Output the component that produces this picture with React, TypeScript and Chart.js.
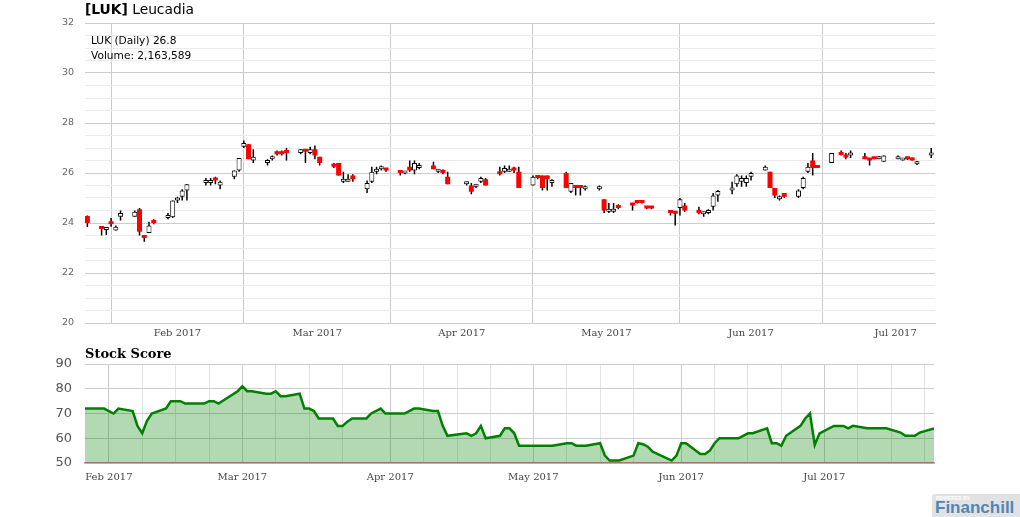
import React, { useEffect, useRef } from 'react';
import { Chart, registerables } from 'chart.js';

Chart.register(...registerables);

// ---------- DATA ----------
const candleDates = [
  '2017-01-27', '2017-01-30', '2017-01-31', '2017-02-01', '2017-02-02', '2017-02-03',
  '2017-02-06', '2017-02-07', '2017-02-08', '2017-02-09', '2017-02-10',
  '2017-02-13', '2017-02-14', '2017-02-15', '2017-02-16', '2017-02-17',
  '2017-02-21', '2017-02-22', '2017-02-23', '2017-02-24',
  '2017-02-27', '2017-02-28', '2017-03-01', '2017-03-02', '2017-03-03',
  '2017-03-06', '2017-03-07', '2017-03-08', '2017-03-09', '2017-03-10',
  '2017-03-13', '2017-03-14', '2017-03-15', '2017-03-16', '2017-03-17',
  '2017-03-20', '2017-03-21', '2017-03-22', '2017-03-23', '2017-03-24',
  '2017-03-27', '2017-03-28', '2017-03-29', '2017-03-30', '2017-03-31',
  '2017-04-03', '2017-04-04', '2017-04-05', '2017-04-06', '2017-04-07',
  '2017-04-10', '2017-04-11', '2017-04-12', '2017-04-13',
  '2017-04-17', '2017-04-18', '2017-04-19', '2017-04-20', '2017-04-21',
  '2017-04-24', '2017-04-25', '2017-04-26', '2017-04-27', '2017-04-28',
  '2017-05-01', '2017-05-02', '2017-05-03', '2017-05-04', '2017-05-05',
  '2017-05-08', '2017-05-09', '2017-05-10', '2017-05-11', '2017-05-12',
  '2017-05-15', '2017-05-16', '2017-05-17', '2017-05-18', '2017-05-19',
  '2017-05-22', '2017-05-23', '2017-05-24', '2017-05-25', '2017-05-26',
  '2017-05-30', '2017-05-31', '2017-06-01', '2017-06-02',
  '2017-06-05', '2017-06-06', '2017-06-07', '2017-06-08', '2017-06-09',
  '2017-06-12', '2017-06-13', '2017-06-14', '2017-06-15', '2017-06-16',
  '2017-06-19', '2017-06-20', '2017-06-21', '2017-06-22', '2017-06-23',
  '2017-06-26', '2017-06-27', '2017-06-28', '2017-06-29', '2017-06-30',
  '2017-07-03', '2017-07-05', '2017-07-06', '2017-07-07',
  '2017-07-10', '2017-07-11', '2017-07-12', '2017-07-13', '2017-07-14',
  '2017-07-17', '2017-07-18', '2017-07-19', '2017-07-20', '2017-07-21',
  '2017-07-24',
];

const opens = [
  24.28, 23.8, 23.72, 24.0, 23.7, 24.25,
  24.25, 24.55, 23.45, 23.6, 24.05,
  24.2, 24.23, 24.9, 25.05, 25.3,
  25.6, 25.6, 25.75, 25.5,
  25.85, 26.1, 27.05, 27.15, 26.5,
  26.4, 26.55, 26.85, 26.85, 26.85,
  26.8, 26.9, 26.8, 26.95, 26.65,
  26.3, 26.4, 25.65, 25.65, 25.9,
  25.35, 25.65, 26.05, 26.15, 26.15,
  26.05, 25.98, 26.25, 26.1, 26.2,
  26.3, 26.05, 26.1, 25.85,
  25.55, 25.5, 25.45, 25.65, 25.75,
  26.0, 26.05, 26.05, 26.2, 26.05,
  25.5, 25.85, 25.9, 25.9, 25.6,
  26.0, 25.25, 25.45, 25.45, 25.35,
  25.35, 24.95, 24.45, 24.45, 24.65,
  24.75, 24.85, 24.85, 24.62, 24.62,
  24.45, 24.42, 24.6, 24.7,
  24.45, 24.35, 24.4, 24.65, 25.1,
  25.3, 25.55, 25.65, 25.6, 25.85,
  26.1, 26.05, 25.4, 24.95, 25.2,
  25.05, 25.4, 26.05, 26.5, 26.3,
  26.4, 26.8, 26.72, 26.7,
  26.6, 26.55, 26.6, 26.55, 26.45,
  26.55, 26.5, 26.6, 26.6, 26.35,
  26.7,
];

const highs = [
  24.3, 23.82, 23.84, 24.2, 23.9, 24.5,
  24.5, 24.6, 23.45, 24.05, 24.15,
  24.4, 24.9, 25.05, 25.35, 25.55,
  25.8, 25.8, 25.85, 25.7,
  26.1, 26.6, 27.3, 27.15, 26.95,
  26.55, 26.7, 26.9, 26.9, 27.0,
  26.95, 26.95, 27.05, 27.1, 26.65,
  26.4, 26.4, 26.05, 25.95, 25.95,
  25.7, 26.25, 26.25, 26.3, 26.15,
  26.1, 26.05, 26.5, 26.5, 26.4,
  26.45, 26.15, 26.15, 26.05,
  25.65, 25.6, 25.55, 25.85, 25.8,
  26.25, 26.3, 26.3, 26.25, 26.25,
  25.9, 25.9, 25.9, 25.9, 25.75,
  26.05, 25.6, 25.45, 25.45, 25.5,
  25.5, 24.95, 24.8, 24.8, 24.75,
  24.75, 24.85, 24.85, 24.65, 24.65,
  24.5, 24.45, 25.0, 24.8,
  24.65, 24.45, 24.55, 25.2, 25.32,
  25.65, 25.95, 25.9, 25.9, 26.05,
  26.3, 26.05, 25.4, 25.1, 25.2,
  25.35, 25.85, 26.4, 26.8, 26.3,
  26.8, 26.9, 26.8, 26.9,
  26.8, 26.6, 26.65, 26.68, 26.7,
  26.7, 26.58, 26.62, 26.62, 26.48,
  27.0,
];

const lows = [
  23.84, 23.5, 23.52, 23.85, 23.7, 24.1,
  24.25, 23.5, 23.25, 23.6, 23.95,
  24.15, 24.2, 24.8, 24.9, 24.9,
  25.5, 25.5, 25.55, 25.35,
  25.75, 26.05, 27.0, 26.55, 26.4,
  26.3, 26.5, 26.7, 26.7, 26.5,
  26.75, 26.4, 26.75, 26.55, 26.3,
  26.2, 25.9, 25.6, 25.65, 25.65,
  25.2, 25.6, 25.95, 26.1, 26.05,
  25.9, 25.95, 26.05, 25.95, 26.15,
  26.15, 26.0, 25.95, 25.55,
  25.5, 25.15, 25.4, 25.6, 25.5,
  25.9, 26.0, 26.05, 26.0, 25.4,
  25.5, 25.75, 25.3, 25.3, 25.45,
  25.4, 25.2, 25.1, 25.1, 25.3,
  25.3, 24.4, 24.4, 24.4, 24.55,
  24.5, 24.78, 24.78, 24.55, 24.55,
  24.3, 23.9, 24.3, 24.45,
  24.35, 24.25, 24.35, 24.5, 24.85,
  25.15, 25.45, 25.45, 25.45, 25.7,
  26.1, 25.4, 25.0, 24.9, 25.0,
  25.0, 25.35, 26.0, 25.9, 26.2,
  26.4, 26.7, 26.55, 26.6,
  26.55, 26.3, 26.55, 26.55, 26.45,
  26.55, 26.5, 26.52, 26.5, 26.32,
  26.6,
];

const closes = [
  24.0, 23.76, 23.84, 23.95, 23.85, 24.4,
  24.45, 23.65, 23.4, 23.9, 24.0,
  24.3, 24.9, 25.0, 25.3, 25.55,
  25.7, 25.7, 25.7, 25.65,
  26.1, 26.6, 27.2, 26.55, 26.65,
  26.5, 26.65, 26.75, 26.75, 26.8,
  26.95, 26.85, 26.95, 26.7, 26.4,
  26.25, 25.9, 25.75, 25.75, 25.75,
  25.6, 26.05, 26.15, 26.25, 26.1,
  26.0, 26.03, 26.1, 26.4, 26.3,
  26.15, 26.12, 26.0, 25.55,
  25.65, 25.25, 25.5, 25.8, 25.5,
  25.95, 26.2, 26.15, 26.1, 25.4,
  25.85, 25.8, 25.4, 25.75, 25.7,
  25.4, 25.6, 25.4, 25.4, 25.4,
  25.4, 24.5, 24.55, 24.55, 24.6,
  24.7, 24.8, 24.8, 24.58, 24.58,
  24.4, 24.37, 24.95, 24.5,
  24.4, 24.43, 24.5, 25.1, 25.28,
  25.4, 25.9, 25.8, 25.8, 26.0,
  26.25, 25.4, 25.1, 25.07, 25.05,
  25.3, 25.8, 26.25, 26.2, 26.2,
  26.8, 26.72, 26.62, 26.8,
  26.55, 26.5, 26.55, 26.65, 26.7,
  26.65, 26.55, 26.55, 26.5, 26.45,
  26.8,
];

const scoreDates = [
  '2017-01-27', '2017-01-31', '2017-02-02', '2017-02-03', '2017-02-06', '2017-02-07',
  '2017-02-08', '2017-02-09', '2017-02-10', '2017-02-13', '2017-02-14', '2017-02-16',
  '2017-02-17', '2017-02-21', '2017-02-22', '2017-02-23', '2017-02-24', '2017-02-28',
  '2017-03-01', '2017-03-02', '2017-03-03', '2017-03-06', '2017-03-07', '2017-03-08',
  '2017-03-09', '2017-03-10', '2017-03-13', '2017-03-14', '2017-03-15', '2017-03-16',
  '2017-03-17', '2017-03-20', '2017-03-21', '2017-03-22', '2017-03-23', '2017-03-24',
  '2017-03-27', '2017-03-28', '2017-03-30', '2017-03-31', '2017-04-04', '2017-04-06',
  '2017-04-07', '2017-04-10', '2017-04-11', '2017-04-12', '2017-04-13', '2017-04-17',
  '2017-04-18', '2017-04-19', '2017-04-20', '2017-04-21', '2017-04-24', '2017-04-25',
  '2017-04-26', '2017-04-27', '2017-04-28', '2017-05-05', '2017-05-08', '2017-05-09',
  '2017-05-10', '2017-05-12', '2017-05-15', '2017-05-16', '2017-05-17', '2017-05-19',
  '2017-05-22', '2017-05-23', '2017-05-24', '2017-05-25', '2017-05-26', '2017-05-30',
  '2017-05-31', '2017-06-01', '2017-06-02', '2017-06-05', '2017-06-06', '2017-06-07',
  '2017-06-08', '2017-06-09', '2017-06-13', '2017-06-15', '2017-06-16', '2017-06-19',
  '2017-06-20', '2017-06-21', '2017-06-22', '2017-06-23', '2017-06-26', '2017-06-27',
  '2017-06-28', '2017-06-29', '2017-06-30', '2017-07-03', '2017-07-05', '2017-07-06',
  '2017-07-07', '2017-07-10', '2017-07-14', '2017-07-17', '2017-07-18', '2017-07-20',
  '2017-07-21', '2017-07-24',
];

const scoreValues = [
  72, 72, 70, 72, 71, 65,
  62, 67, 70, 72, 75, 75,
  74, 74, 75, 75, 74, 79,
  81, 79, 79, 78, 78, 79,
  77, 77, 78, 72, 72, 71,
  68, 68, 65, 65, 66.7, 68,
  68, 70, 72, 70, 70, 72,
  72, 71, 71, 65, 61, 62,
  61, 62, 65, 60, 61, 64,
  64, 62, 57, 57, 58, 58,
  57, 57, 58, 53, 51, 51,
  53, 58, 57.6, 56.6, 54.6, 51,
  53, 58, 58, 53.6, 53.6, 55,
  58, 60, 60, 62, 62, 64,
  58, 58, 57, 61, 65, 68,
  70, 57.3, 62, 65, 65, 64,
  65, 64, 64, 62.3, 61, 61,
  62.3, 64,
];

const monthStarts = ['2017-02-01', '2017-03-01', '2017-04-01', '2017-05-01', '2017-06-01', '2017-07-01'];
const monthLabels = ['Feb 2017', 'Mar 2017', 'Apr 2017', 'May 2017', 'Jun 2017', 'Jul 2017'];
const weekDaysOfMonth = [8, 15, 22];

const priceMin = 20;
const priceMax = 32;
const scoreMin = 50;
const scoreMax = 90;

// ---------- HELPERS ----------
const DAY = 86400000;
const BASE = Date.UTC(2017, 0, 1);
function dayNum(s: string): number {
  const [y, m, d] = s.split('-').map(Number);
  return (Date.UTC(y, m - 1, d) - BASE) / DAY;
}
function monthMid(s: string): number {
  const [y, m] = s.split('-').map(Number);
  const a = Date.UTC(y, m - 1, 1);
  const b = Date.UTC(y, m, 1);
  return ((a + b) / 2 - BASE) / DAY;
}

const monthStartDays = monthStarts.map(dayNum);
const monthMidDays = monthStarts.map(monthMid);
const weekDays: number[] = [];
monthStarts.forEach((s) => {
  const [y, m] = s.split('-').map(Number);
  weekDaysOfMonth.forEach((d) => weekDays.push((Date.UTC(y, m - 1, d) - BASE) / DAY));
});

const GRID_MAJOR = '#cccccc';
const GRID_MINOR = '#ebebeb';

export default function App() {
  const topRef = useRef<HTMLCanvasElement>(null);
  const botRef = useRef<HTMLCanvasElement>(null);

  useEffect(() => {
    const isUp = (i: number) => closes[i] >= opens[i];
    const wickData = candleDates.map((s, i) => ({ x: dayNum(s), y: [lows[i], highs[i]] }));
    const bodyData = candleDates.map((s, i) => ({
      x: dayNum(s),
      y: [Math.min(opens[i], closes[i]), Math.max(opens[i], closes[i])],
    }));

    const topChart = new Chart(topRef.current as HTMLCanvasElement, {
      type: 'bar',
      data: {
        datasets: [
          {
            data: bodyData as any,
            order: 1,
            grouped: false,
            barThickness: 5,
            minBarLength: 3,
            inflateAmount: 0,
            borderSkipped: false,
            backgroundColor: (ctx: any) => (isUp(ctx.dataIndex) ? '#ffffff' : '#ff0000'),
            borderColor: (ctx: any) => (isUp(ctx.dataIndex) ? '#000000' : '#ff0000'),
            borderWidth: (ctx: any) => (isUp(ctx.dataIndex) ? 1 : 0),
          } as any,
          {
            data: wickData as any,
            order: 2,
            grouped: false,
            barThickness: 1.5,
            inflateAmount: 0,
            borderSkipped: false,
            backgroundColor: '#000000',
            borderWidth: 0,
          } as any,
        ],
      },
      options: {
        responsive: false,
        animation: false,
        events: [],
        layout: { padding: { left: 0, right: 85, top: 23, bottom: 0 } },
        plugins: { legend: { display: false }, tooltip: { enabled: false }, title: { display: false } },
        scales: {
          x: {
            type: 'linear',
            min: 25.5,
            max: 204.8,
            offset: false,
            afterBuildTicks: (scale: any) => {
              const t = [...monthStartDays, ...monthMidDays].sort((a, b) => a - b);
              scale.ticks = t.map((v) => ({ value: v }));
            },
            afterFit: (scale: any) => {
              scale.height = 22;
            },
            grid: {
              offset: false,
              drawTicks: false,
              color: (ctx: any) =>
                ctx.tick && monthStartDays.includes(ctx.tick.value) ? GRID_MAJOR : 'rgba(0,0,0,0)',
              lineWidth: 1,
            },
            border: { display: true, color: GRID_MAJOR, width: 1 },
            ticks: {
              autoSkip: false,
              maxRotation: 0,
              minRotation: 0,
              padding: 4,
              color: '#444444',
              font: { family: 'DejaVu Serif', size: 10 },
              callback: (value: any) => {
                const idx = monthMidDays.indexOf(Number(value));
                return idx >= 0 ? monthLabels[idx] : '';
              },
            },
          },
          y: {
            type: 'linear',
            min: priceMin,
            max: priceMax,
            afterFit: (scale: any) => {
              scale.width = 85;
            },
            grid: {
              drawTicks: false,
              color: (ctx: any) => (ctx.tick && ctx.tick.value % 2 === 0 ? GRID_MAJOR : GRID_MINOR),
            },
            border: { display: false },
            ticks: {
              stepSize: 0.5,
              autoSkip: false,
              padding: 11,
              color: '#666666',
              font: { family: 'DejaVu Sans', size: 9.5 },
              callback: (value: any) => (Number(value) % 2 === 0 ? String(value) : ''),
            },
          },
        },
      } as any,
    });

    const scoreData = scoreDates.map((s, i) => ({ x: dayNum(s), y: scoreValues[i] }));
    const botChart = new Chart(botRef.current as HTMLCanvasElement, {
      type: 'line',
      data: {
        datasets: [
          {
            data: scoreData as any,
            borderColor: '#008000',
            borderWidth: 2.5,
            backgroundColor: 'rgba(0,128,0,0.3)',
            fill: 'start',
            pointRadius: 0,
            tension: 0,
          },
        ],
      },
      options: {
        responsive: false,
        animation: false,
        events: [],
        layout: { padding: { left: 0, right: 86, top: 24, bottom: 0 } },
        plugins: { legend: { display: false }, tooltip: { enabled: false }, title: { display: false } },
        scales: {
          x: {
            type: 'linear',
            min: dayNum(scoreDates[0]),
            max: dayNum(scoreDates[scoreDates.length - 1]),
            offset: false,
            afterBuildTicks: (scale: any) => {
              const t = [...monthStartDays, ...weekDays].sort((a, b) => a - b);
              scale.ticks = t.map((v) => ({ value: v }));
            },
            afterFit: (scale: any) => {
              scale.height = 37;
            },
            grid: {
              offset: false,
              drawTicks: false,
              color: (ctx: any) =>
                ctx.tick && monthStartDays.includes(ctx.tick.value) ? GRID_MAJOR : '#e3e3e3',
            },
            border: { display: true, color: '#e0769a', width: 1.5 },
            ticks: {
              autoSkip: false,
              maxRotation: 0,
              minRotation: 0,
              padding: 8,
              color: '#444444',
              font: { family: 'DejaVu Serif', size: 10 },
              callback: (value: any) => {
                const idx = monthStartDays.indexOf(Number(value));
                return idx >= 0 ? monthLabels[idx] : '';
              },
            },
          },
          y: {
            type: 'linear',
            min: scoreMin,
            max: scoreMax,
            afterFit: (scale: any) => {
              scale.width = 85;
            },
            grid: { drawTicks: false, color: GRID_MAJOR },
            border: { display: false },
            ticks: {
              stepSize: 10,
              padding: 13,
              color: '#555555',
              font: { family: 'DejaVu Sans', size: 13 },
            },
          },
        },
      } as any,
    });

    return () => {
      topChart.destroy();
      botChart.destroy();
    };
  }, []);

  return (
    <div
      style={{
        position: 'absolute',
        left: 0,
        top: 0,
        width: 1020,
        height: 517,
        background: '#ffffff',
        overflow: 'hidden',
      }}
    >
      <canvas ref={topRef} width={1020} height={345} style={{ position: 'absolute', left: 0, top: 0 }} />
      <canvas ref={botRef} width={1020} height={160} style={{ position: 'absolute', left: 0, top: 340 }} />
      <div
        style={{
          position: 'absolute',
          left: 85,
          top: 0,
          fontFamily: 'DejaVu Sans',
          fontSize: 13.8,
          lineHeight: '18px',
          color: '#000',
          whiteSpace: 'nowrap',
        }}
      >
        <b>[LUK]</b> Leucadia
      </div>
      <div
        style={{
          position: 'absolute',
          left: 91,
          top: 33,
          fontFamily: 'DejaVu Sans',
          fontSize: 10.6,
          lineHeight: '14.5px',
          color: '#000',
          whiteSpace: 'nowrap',
        }}
      >
        <div>LUK (Daily) 26.8</div>
        <div>Volume: 2,163,589</div>
      </div>
      <div
        style={{
          position: 'absolute',
          left: 85,
          top: 346,
          fontFamily: 'DejaVu Serif',
          fontWeight: 'bold',
          fontSize: 13,
          lineHeight: '16px',
          color: '#000',
          whiteSpace: 'nowrap',
        }}
      >
        Stock Score
      </div>
      <div
        style={{
          position: 'absolute',
          left: 932,
          top: 494,
          width: 88,
          height: 23,
          background: '#e2e2e2',
          borderTopLeftRadius: 3,
          overflow: 'hidden',
        }}
      >
        <div
          style={{
            position: 'absolute',
            left: 4,
            top: 1,
            fontFamily: 'Liberation Sans',
            fontSize: 5,
            lineHeight: '6px',
            color: '#ffffff',
            fontWeight: 'bold',
            whiteSpace: 'nowrap',
          }}
        >
          POWERED BY
        </div>
        <div
          style={{
            position: 'absolute',
            left: 3,
            top: 5,
            fontFamily: 'Liberation Sans',
            fontSize: 17,
            lineHeight: '18px',
            color: '#4f87b9',
            fontWeight: 'bold',
            whiteSpace: 'nowrap',
          }}
        >
          Financhill
        </div>
      </div>
    </div>
  );
}
